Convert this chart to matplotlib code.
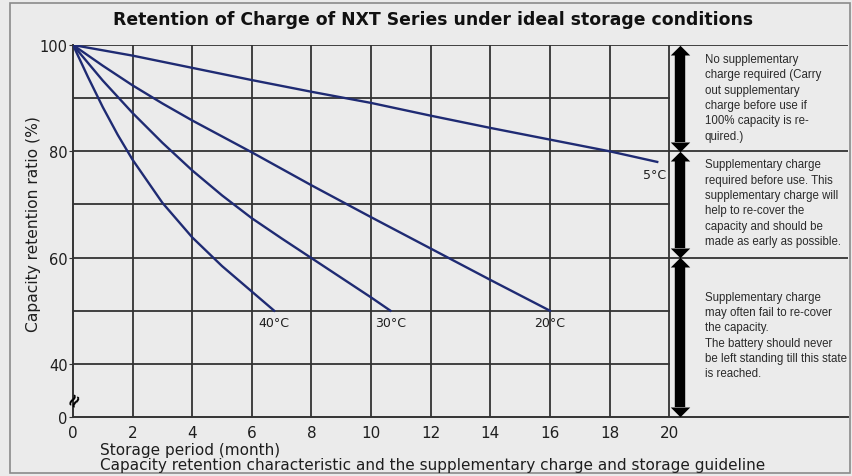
import matplotlib
matplotlib.use("Agg")
import matplotlib.pyplot as plt
from matplotlib.patches import Rectangle

# data (month, retention %)
months_5 = [0, 2, 4, 6, 8, 10, 12, 14, 16, 18, 19.6]
ret_5 = [100, 98.0, 95.7, 93.4, 91.2, 89.1, 86.7, 84.4, 82.2, 80.0, 78.0]
months_20 = [0, 1, 2, 3, 4, 6, 8, 10, 12, 14, 16]
ret_20 = [100, 96.1, 92.4, 89.0, 85.8, 79.8, 73.6, 67.6, 61.7, 55.8, 50]
months_30 = [0, 1, 2, 3, 4, 5, 6, 7, 8, 9, 10, 10.65]
ret_30 = [100, 93.3, 87.2, 81.6, 76.4, 71.7, 67.4, 63.6, 59.9, 56.2, 52.5, 50]
months_40 = [0, 0.5, 1, 1.5, 2, 3, 4, 5, 6, 6.75]
ret_40 = [100, 94.0, 88.3, 83.1, 78.4, 70.3, 63.8, 58.4, 53.6, 50]

temp_labels = ["5°C", "20°C", "30°C", "40°C"]

xticks = [0, 2, 4, 6, 8, 10, 12, 14, 16, 18, 20]
yticks = [30, 40, 60, 80, 100]   # 30 stands in for the broken 0
ytick_labels = ["0", "40", "60", "80", "100"]

zone_bounds = [100, 80, 60, 30]
zone_text_top = [98.5, 78.7, 53.8]
zone_texts = [
    "No supplementary\ncharge required (Carry\nout supplementary\ncharge before use if\n100% capacity is re-\nquired.)",
    "Supplementary charge\nrequired before use. This\nsupplementary charge will\nhelp to re-cover the\ncapacity and should be\nmade as early as possible.",
    "Supplementary charge\nmay often fail to re-cover\nthe capacity.\nThe battery should never\nbe left standing till this state\nis reached.",
]

bg = "#ebebeb"
grid_c = "#333333"
line_c = "#1f2b73"
txt_c = "#1e1e1e"

fig = plt.figure(figsize=(8.53, 4.77), dpi=100, facecolor=bg)
ax = fig.add_axes([73/853, 1-418/477, (848-73)/853, (418-46)/477])
ax.set_facecolor(bg)
ax.set_xlim(0, 26.0)
ax.set_ylim(30, 100)

for s in ["top", "right"]:
    ax.spines[s].set_visible(False)
for s in ["left", "bottom"]:
    ax.spines[s].set_color(grid_c)
    ax.spines[s].set_linewidth(1.4)

# grid
for x in xticks[1:]:
    ax.plot([x, x], [30, 100], color=grid_c, lw=1.3, zorder=1)
for y in [40, 50, 70, 90]:
    ax.plot([0, 20], [y, y], color=grid_c, lw=1.3, zorder=1)
for y in [60, 80, 100]:
    ax.plot([0, 26], [y, y], color=grid_c, lw=1.3, zorder=1)

# curves
ax.plot(months_5, ret_5, color=line_c, lw=1.7, zorder=3)
ax.plot(months_20, ret_20, color=line_c, lw=1.7, zorder=3)
ax.plot(months_30, ret_30, color=line_c, lw=1.7, zorder=3)
ax.plot(months_40, ret_40, color=line_c, lw=1.7, zorder=3)

ax.text(months_5[-1] - 0.1, 75.6, temp_labels[0], ha="center", va="center", fontsize=9, color=txt_c)
ax.text(months_20[-1], 47.8, temp_labels[1], ha="center", va="center", fontsize=9, color=txt_c)
ax.text(months_30[-1], 47.8, temp_labels[2], ha="center", va="center", fontsize=9, color=txt_c)
ax.text(months_40[-1], 47.8, temp_labels[3], ha="center", va="center", fontsize=9, color=txt_c)

# ticks
ax.set_xticks(xticks)
ax.set_xticklabels([str(x) for x in xticks], fontsize=11, color=txt_c)
ax.set_yticks(yticks)
ax.set_yticklabels(ytick_labels, fontsize=10.5, color=txt_c)
ax.tick_params(axis="x", length=0, pad=6)
ax.tick_params(axis="y", length=3, pad=1, color=grid_c)

# axis break mark
ax.text(0.05, 33.5, "≈", ha="center", va="center", fontsize=13, fontweight="bold",
        rotation=60, color="black", clip_on=False)

ax.set_ylabel("Capacity retention ratio (%)", fontsize=11.2, color=txt_c)
ax.yaxis.set_label_coords(-0.041, 0.52)

# zone arrows: thick body + triangle heads meeting tip to tip at the zone limits
arr_x = 20.37
hl = 1.8          # head length in data units (~9-10 px)
head_up = [(-1, 0), (1, 0), (0, 1)]
head_dn = [(-1, 0), (1, 0), (0, -1)]
for i in range(3):
    top, bot = zone_bounds[i], zone_bounds[i+1]
    ax.plot([arr_x, arr_x], [top - hl, bot + hl], color="black", lw=7.5,
            solid_capstyle="butt", clip_on=False, zorder=4)
    ax.plot(arr_x, top - hl, marker=head_up, ms=14, color="black", mew=0, clip_on=False, zorder=4)
    ax.plot(arr_x, bot + hl, marker=head_dn, ms=14, color="black", mew=0, clip_on=False, zorder=4)
    ax.text(21.2, zone_text_top[i], zone_texts[i], ha="left", va="top", fontsize=8.3,
            family="Liberation Sans", color="#2a2a2a", linespacing=1.37)

fig.suptitle("Retention of Charge of NXT Series under ideal storage conditions",
             x=433/853, y=1-20/477, va="center", fontsize=12.4, fontweight="bold", color="#111111")

fig.text(100/853, 1-451/477, "Storage period (month)", ha="left", va="center", fontsize=11, color=txt_c)
fig.text(100/853, 1-466/477,
         "Capacity retention characteristic and the supplementary charge and storage guideline",
         ha="left", va="center", fontsize=11, color=txt_c)

fig.patches.append(Rectangle((10/853, 3/477), 840/853, 470/477, transform=fig.transFigure,
                             fill=False, edgecolor="#8a8a8a", lw=1.2))

fig.savefig("out.png", dpi=100, facecolor=bg)
